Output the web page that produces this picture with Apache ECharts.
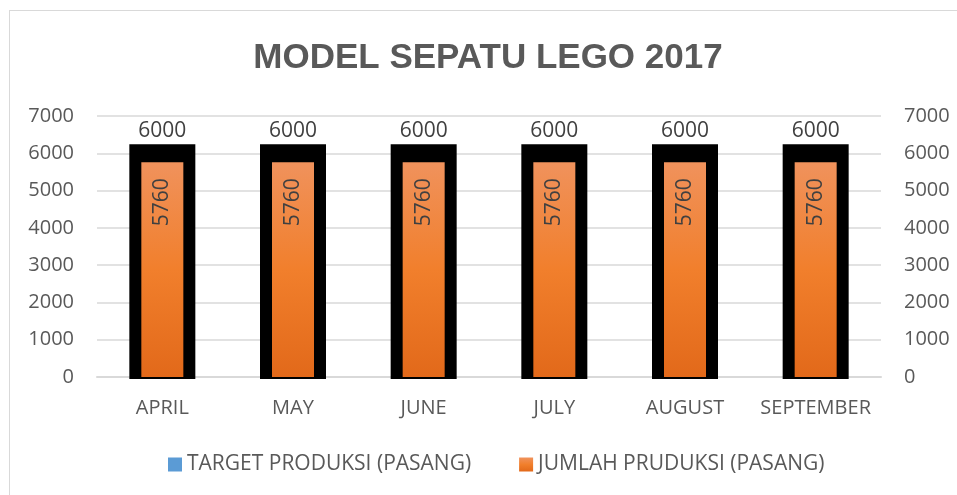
<!DOCTYPE html>
<html>
<head>
<meta charset="utf-8">
<script src="https://cdn.jsdelivr.net/npm/echarts@6/dist/echarts.min.js"></script>
<style>
  html, body { margin: 0; padding: 0; background: #fff; }
  #frame { position: absolute; left: 9px; top: 10px; width: 1000px; height: 600px; border: 1px solid #d9d9d9; box-sizing: border-box; }
  #chart { position: absolute; left: 0; top: 0; width: 957px; height: 495px; }
</style>
</head>
<body>
<div id="frame"></div>
<div id="chart"></div>
<script>
  // data
  var months = ['APRIL', 'MAY', 'JUNE', 'JULY', 'AUGUST', 'SEPTEMBER']
  var targetProduksi = [6000, 6000, 6000, 6000, 6000, 6000]
  var jumlahProduksi = [5760, 5760, 5760, 5760, 5760, 5760]
  var yMin = 0
  var yMax = 7000
  var yStep = 1000

  var textColor = '#595959'
  var font = 'Open Sans'

  var chart = echarts.init(document.getElementById('chart'), null, { renderer: 'canvas' })

  // black target bar, thick black outline like the excel one
  function renderTarget(params, api) {
    var idx = api.value(0)
    var val = api.value(1)
    var top = api.coord([idx, val])
    var base = api.coord([idx, 0])
    var half = 33
    var edge = 9
    return {
      type: 'group',
      children: [{
        type: 'rect',
        shape: { x: top[0] - half, y: top[1] - edge, width: half * 2, height: base[1] - top[1] + edge + 2 },
        style: { fill: '#000' }
      }, {
        type: 'text',
        x: top[0],
        y: top[1] - edge - 3,
        style: {
          text: String(val),
          fill: '#404040',
          font: '21px ' + font,
          align: 'center',
          verticalAlign: 'bottom'
        }
      }]
    }
  }

  var plainNum = function (v) { return String(v) }

  chart.setOption({
    backgroundColor: 'transparent',
    animation: false,
    title: {
      text: 'MODEL SEPATU LEGO 2017',
      left: 483,
      top: 36,
      textAlign: 'center',
      textStyle: {
        color: textColor,
        fontFamily: 'Liberation Sans',
        fontWeight: 'bold',
        fontSize: 35
      }
    },
    legend: {
      top: 449,
      left: 163,
      icon: 'rect',
      itemWidth: 14,
      itemHeight: 14,
      itemGap: 48,
      textStyle: { color: textColor, fontFamily: font, fontSize: 21 },
      data: [{
        name: 'TARGET PRODUKSI (PASANG)',
        itemStyle: { color: '#5B9BD5' }
      }, {
        name: 'JUMLAH PRUDUKSI (PASANG)'
      }]
    },
    grid: {
      left: 97,
      right: 76,
      top: 116,
      bottom: 118
    },
    xAxis: {
      type: 'category',
      data: months,
      axisTick: { show: false },
      axisLine: { lineStyle: { color: '#d9d9d9', width: 2 } },
      axisLabel: { color: textColor, fontFamily: font, fontSize: 20, margin: 21, interval: 0 }
    },
    yAxis: [{
      type: 'value',
      min: yMin,
      max: yMax,
      interval: yStep,
      axisLine: { show: false },
      axisTick: { show: false },
      splitLine: { lineStyle: { color: '#d9d9d9', width: 1.5 } },
      axisLabel: { color: textColor, fontFamily: font, fontSize: 20, margin: 23, formatter: plainNum }
    }, {
      type: 'value',
      position: 'right',
      min: yMin,
      max: yMax,
      interval: yStep,
      axisLine: { show: false },
      axisTick: { show: false },
      splitLine: { show: false },
      axisLabel: { color: textColor, fontFamily: font, fontSize: 20, margin: 23, formatter: plainNum }
    }],
    series: [{
      name: 'TARGET PRODUKSI (PASANG)',
      type: 'custom',
      yAxisIndex: 0,
      z: 2,
      itemStyle: { color: '#5B9BD5' },
      renderItem: renderTarget,
      encode: { x: 0, y: 1 },
      data: targetProduksi.map(function (v, i) { return [i, v] })
    }, {
      name: 'JUMLAH PRUDUKSI (PASANG)',
      type: 'bar',
      yAxisIndex: 1,
      z: 3,
      barWidth: 42,
      itemStyle: {
        color: new echarts.graphic.LinearGradient(0, 0, 0, 1, [
          { offset: 0, color: '#F0925C' },
          { offset: 0.5, color: '#F17F2C' },
          { offset: 1, color: '#E2691A' }
        ])
      },
      label: {
        show: true,
        position: 'insideTop',
        rotate: 90,
        align: 'right',
        verticalAlign: 'middle',
        distance: 16,
        color: '#404040',
        fontFamily: font,
        fontSize: 21
      },
      data: jumlahProduksi
    }]
  })
</script>
</body>
</html>
